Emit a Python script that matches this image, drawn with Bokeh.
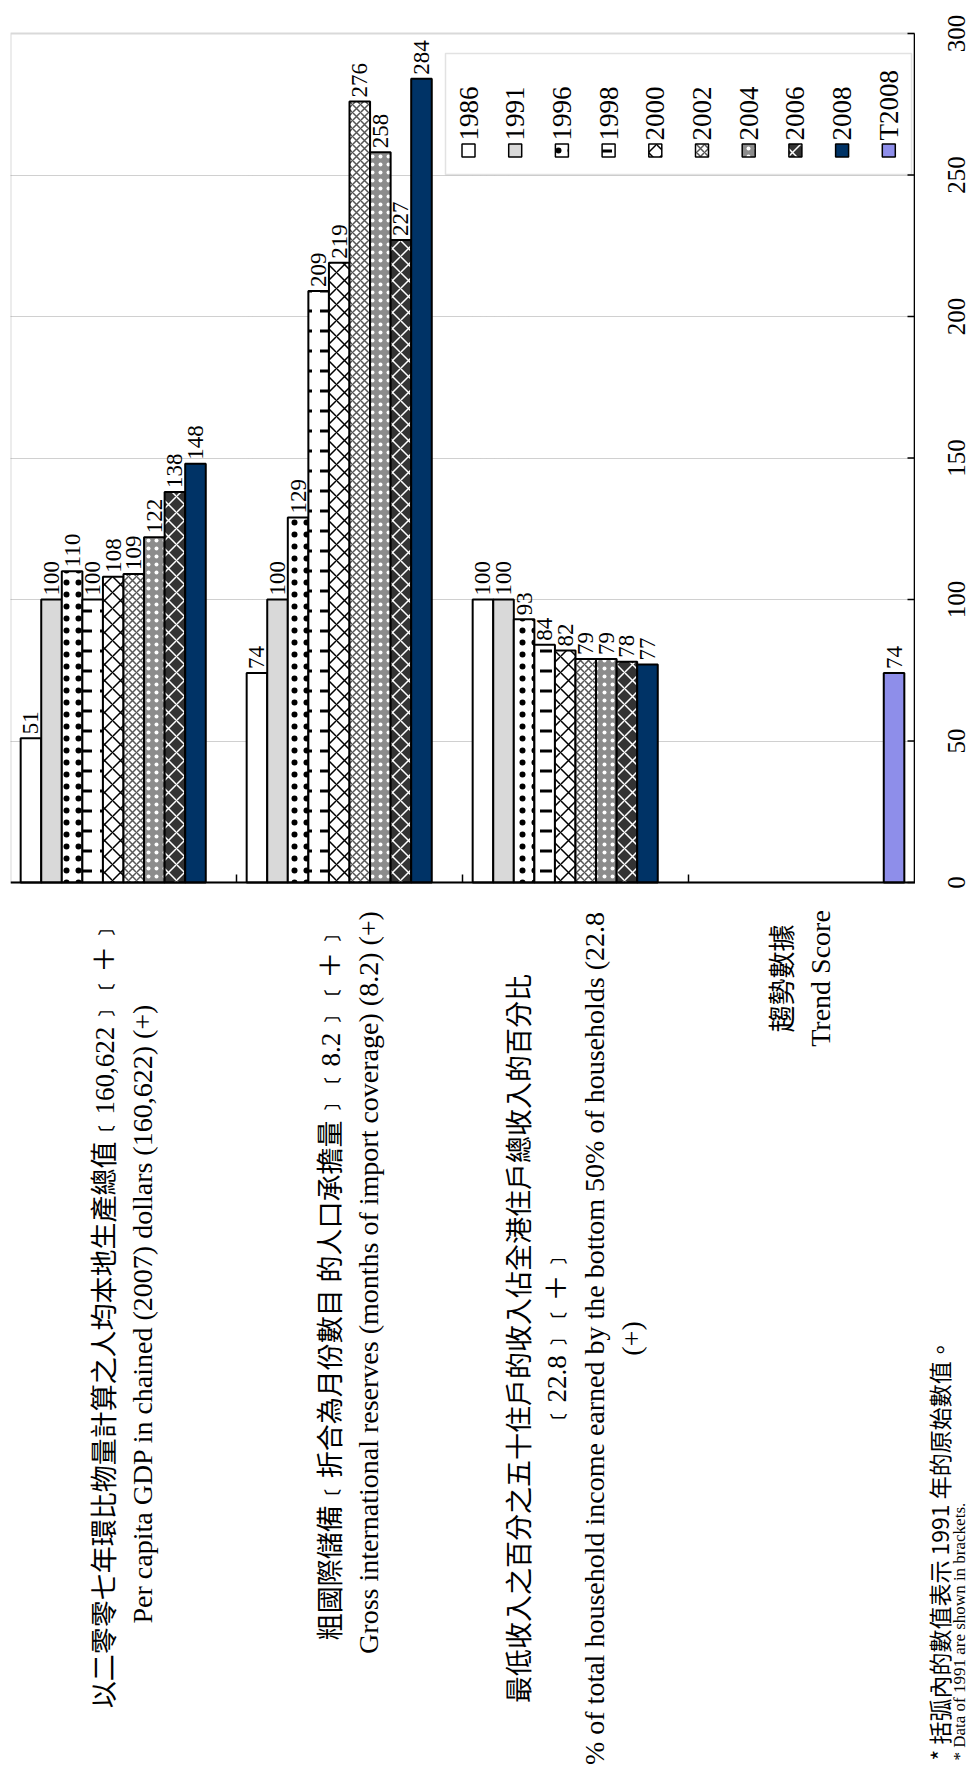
import math
from bokeh.plotting import figure
from bokeh.layouts import column, row
from bokeh.models import (Range1d, FixedTicker, BoxAnnotation, Span,
                          ColumnDataSource, Grid)
from bokeh.core.properties import value
from bokeh.embed import file_html
from bokeh.resources import INLINE

# ------------------------------------------------------------------ data
years = ["1986", "1991", "1996", "1998", "2000", "2002", "2004", "2006", "2008", "T2008"]
gdp_per_capita = [51, 100, 110, 100, 108, 109, 122, 138, 148, None]
gross_reserves = [74, 100, 129, 209, 219, 276, 258, 227, 284, None]
bottom50_income_share = [100, 100, 93, 84, 82, 79, 79, 78, 77, None]
trend_score = [None, None, None, None, None, None, None, None, None, 74]
value_ticks = [0, 50, 100, 150, 200, 250, 300]

category_labels = [
    ["以二零零七年環比物量計算之人均本地生產總值﹝160,622﹞﹝＋﹞",
     "Per capita GDP in chained (2007) dollars (160,622) (+)"],
    ["粗國際儲備﹝折合為月份數目 的人口承擔量﹞﹝8.2﹞﹝＋﹞",
     "Gross international reserves (months of import coverage) (8.2) (+)"],
    ["最低收入之百分之五十住戶的收入佔全港住戶總收入的百分比",
     "﹝22.8﹞﹝＋﹞",
     "% of total household income earned by the bottom 50% of households (22.8",
     "(+)"],
    ["趨勢數據", "Trend Score"],
]
footnotes = ["* 括弧內的數值表示 1991 年的原始數值。",
             "* Data of 1991 are shown in brackets."]

series_by_category = [gdp_per_capita, gross_reserves, bottom50_income_share, trend_score]

# ------------------------------------------------------------------ styles
styles = {
    "1986": dict(fill_color="white"),
    "1991": dict(fill_color="#D9D9D9"),
    "1996": dict(fill_color="white", hatch_pattern=".", hatch_color="black",
                 hatch_scale=12, hatch_weight=0.5),
    "1998": dict(fill_color="white", hatch_pattern='"', hatch_color="black",
                 hatch_scale=20, hatch_weight=3),
    "2000": dict(fill_color="white", hatch_pattern="x", hatch_color="black",
                 hatch_scale=16, hatch_weight=1.5),
    "2002": dict(fill_color="white", hatch_pattern="x", hatch_color="#555555",
                 hatch_scale=8, hatch_weight=1.5),
    "2004": dict(fill_color="#8C8C8C", hatch_pattern=".", hatch_color="white",
                 hatch_scale=8, hatch_weight=3),
    "2006": dict(fill_color="#333333", hatch_pattern="x", hatch_color="white",
                 hatch_scale=16, hatch_weight=1.5),
    "2008": dict(fill_color="#003366"),
    "T2008": dict(fill_color="#8E8EEA"),
}

SERIF = "Liberation Serif"
CJK = "Noto Sans CJK TC"
MIXED = "Liberation Serif, Noto Sans CJK TC"


def has_cjk(s):
    return any(ord(c) > 0x2E80 for c in s)


# ------------------------------------------------------------------ layout (page pixels)
W, H = 969, 1771
TOP_H = 900
F_LEFT, F_RIGHT, Y300, Y0 = 10, 914, 33, 882
P_W = F_RIGHT + 1                 # chart canvas ends 1px past the value-axis line
TICK_LABEL_X = 956 - P_W          # centre of value labels inside the side strip
TICK_LEN = 7
n_cat = len(series_by_category)
vmax = value_ticks[-1]
PPU = (Y0 - Y300) / vmax          # px per value unit
XPU = (F_RIGHT - F_LEFT) / n_cat  # px per category


def px_x(px):
    return (px - F_LEFT) / XPU


def px_y(py):
    return (Y0 - py) / PPU


def bare(fig):
    fig.outline_line_color = None
    fig.background_fill_color = "white"
    fig.border_fill_color = "white"
    fig.xgrid.visible = False
    fig.ygrid.visible = False


# ================================================================== chart figure
p = figure(width=P_W, height=TOP_H, x_range=Range1d(0, px_x(P_W)),
           y_range=Range1d(px_y(TOP_H), px_y(0)),
           output_backend="svg", toolbar_location=None,
           x_axis_location=None, y_axis_location=None,
           min_border_left=F_LEFT, min_border_right=0,
           min_border_top=0, min_border_bottom=0, frame_align=False)
bare(p)

grid = Grid(dimension=1, ticker=FixedTicker(ticks=value_ticks[1:-1]),
            grid_line_color="#A0A0A0", grid_line_dash="1 1", grid_line_width=1)
p.add_layout(grid)

frame_box = BoxAnnotation(left=0, right=n_cat, bottom=0, top=vmax, fill_alpha=0,
                          line_color="#808080", line_width=2, level="underlay")
p.add_layout(frame_box)

leg_box = BoxAnnotation(left=px_x(445), right=px_x(911), top=px_y(53), bottom=px_y(174),
                        fill_color="white", fill_alpha=1, line_color="#A0A0A0",
                        line_width=1.5, level="underlay")
p.add_layout(leg_box)

# bars + value labels
n_ser = len(years)
slot = 0.091
gap = 1 - n_ser * slot
for j, yr in enumerate(years):
    xs, tops = [], []
    for i, series in enumerate(series_by_category):
        v = series[j]
        if v is not None:
            xs.append(i + gap / 2 + (j + 0.5) * slot)
            tops.append(v)
    p.vbar(x=xs, top=tops, bottom=0, width=slot, line_color="black", line_width=2,
           **styles[yr])
    p.text(x=xs, y=[t + 4 / PPU for t in tops], text=[str(t) for t in tops],
           angle=math.pi / 2, text_align="left", text_baseline="middle",
           text_font=value(SERIF), text_font_size=value("23px"), text_color="black")

# category axis: baseline + group separators
seps = list(range(1, n_cat))
p.segment(x0=seps, y0=[0] * len(seps), x1=seps, y1=[8 / PPU] * len(seps),
          line_color="black", line_width=1.5)
p.add_layout(Span(location=0, dimension="width", line_color="black", line_width=2))

# value axis: line on the right edge of the plot area, ticks pointing inwards
p.segment(x0=[n_cat], y0=[value_ticks[0]], x1=[n_cat], y1=[vmax],
          line_color="black", line_width=1.5)
p.segment(x0=[n_cat - TICK_LEN / XPU] * len(value_ticks), y0=value_ticks,
          x1=[n_cat] * len(value_ticks), y1=value_ticks,
          line_color="black", line_width=1.5)

# legend items
LEG_X0, LEG_DX, LEG_SW_Y = 468, 46.7, 150
for j, yr in enumerate(years):
    lx = px_x(LEG_X0 + j * LEG_DX)
    p.scatter(x=[lx], y=[px_y(LEG_SW_Y)], marker="square", size=13,
              line_color="black", line_width=1.5, **styles[yr])
    p.text(x=[lx], y=[px_y(LEG_SW_Y - 10)], text=[yr], angle=math.pi / 2,
           text_align="left", text_baseline="middle", text_font=value(SERIF),
           text_font_size=value("27px"), text_color="black")

# ================================================================== value-label strip
r = figure(width=W - P_W, height=TOP_H, x_range=Range1d(0, W - P_W),
           y_range=p.y_range, output_backend="svg", toolbar_location=None,
           x_axis_location=None, y_axis_location=None,
           min_border_left=0, min_border_right=0, min_border_top=0, min_border_bottom=0,
           frame_align=False)
bare(r)
r.text(x=[TICK_LABEL_X] * len(value_ticks), y=value_ticks,
       text=[str(t) for t in value_ticks], angle=math.pi / 2, text_align="center",
       text_baseline="middle", text_font=value(SERIF), text_font_size=value("25px"),
       text_color="black")

# ================================================================== label figure
q = figure(width=W, height=H - TOP_H, x_range=Range1d(px_x(0), px_x(W)),
           y_range=Range1d(px_y(H), px_y(TOP_H)),
           output_backend="svg", toolbar_location=None,
           x_axis_location=None, y_axis_location=None,
           min_border_left=0, min_border_right=0, min_border_top=0, min_border_bottom=0,
           frame_align=False)
bare(q)

LINE_GAP = 37
label_center_px = [431, 400, 456, 96]
rows = dict(x=[], y=[], text=[], xo=[], font=[], size=[])
for i, lines in enumerate(category_labels):
    n = len(lines)
    for k, line in enumerate(lines):
        cjk = has_cjk(line)
        rows["x"].append(i + 0.5)
        rows["y"].append(-label_center_px[i] / PPU)
        rows["xo"].append((k - (n - 1) / 2) * LINE_GAP)
        rows["text"].append(line)
        rows["font"].append(MIXED if cjk else SERIF)
        rows["size"].append("27px" if cjk else "28px")
q.text(x="x", y="y", text="text", x_offset="xo", text_font="font",
       text_font_size="size", source=ColumnDataSource(rows), angle=math.pi / 2,
       text_align="center", text_baseline="middle", text_color="black")

# footnotes
for note, px, fs in zip(footnotes, [938, 959], ["23px", "17px"]):
    q.text(x=[px_x(px)], y=[px_y(1760)], text=[note], angle=math.pi / 2,
           text_align="left", text_baseline="middle",
           text_font=value(CJK if has_cjk(note) else SERIF),
           text_font_size=value(fs), text_color="black")

layout = column(row(p, r, spacing=0), q, spacing=0)
open("out.html", "w").write(file_html(layout, INLINE))
